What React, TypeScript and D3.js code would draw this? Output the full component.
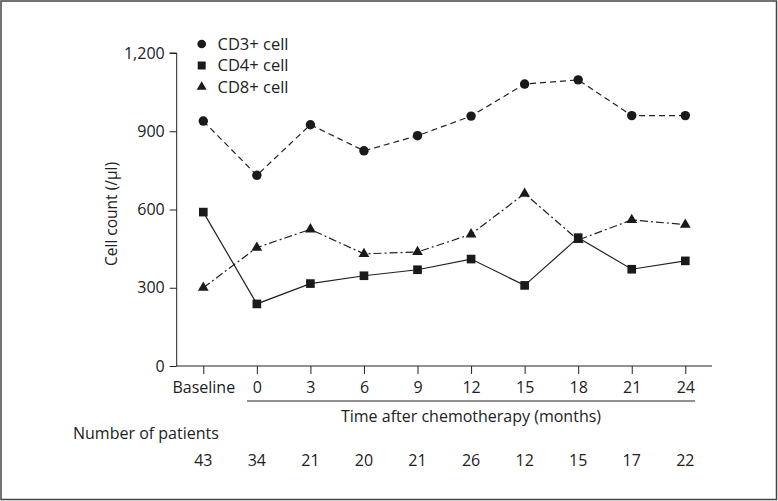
import React, { useEffect, useRef } from "react";
import * as d3 from "d3";

const categories = ["Baseline", "0", "3", "6", "9", "12", "15", "18", "21", "24"];
const cd3 = [939, 731, 925, 825, 883, 958, 1081, 1097, 960, 960];
const cd4 = [590, 238, 316, 346, 369, 410, 309, 492, 371, 403];
const cd8 = [300, 454, 524, 430, 437, 505, 661, 483, 560, 542];
const patients = [43, 34, 21, 20, 21, 26, 12, 15, 17, 22];
const yTicks = [0, 300, 600, 900, 1200];

const W = 778;
const H = 501;
const FONT = "'Open Sans', 'Noto Sans', sans-serif";
const INK = "#222";
const FS = "16px";

export default function App() {
  const ref = useRef<SVGSVGElement>(null);

  useEffect(() => {
    document.body.style.margin = "0";
    const svg = d3.select(ref.current).html("");

    const x = d3.scalePoint().domain(categories).range([203.3, 685.3]);
    const y = d3.scaleLinear().domain([0, 1200]).range([366, 53]);

    // frame
    svg.append("rect")
      .attr("x", 1).attr("y", 1).attr("width", W - 2.5).attr("height", H - 2.5)
      .attr("fill", "#fff").attr("stroke", "#444").attr("stroke-width", 1.5);

    // y axis
    const yAxis = svg.append("g")
      .attr("transform", "translate(176.7,0)")
      .call(d3.axisLeft(y).tickValues(yTicks).tickFormat(d3.format(",")).tickSize(7).tickPadding(5));
    yAxis.select(".domain").attr("stroke", INK).attr("d", `M-7,${y(1200)}H0V${y(0)}`);
    yAxis.selectAll(".tick line").attr("stroke", INK);
    yAxis.selectAll("text").attr("fill", INK).style("font-family", FONT).style("font-size", FS);

    // x axis
    const xAxis = svg.append("g")
      .attr("transform", "translate(0,366)")
      .call(d3.axisBottom(x).tickSize(8).tickPadding(8));
    xAxis.select(".domain").attr("stroke", INK).attr("d", "M176.7,0H712");
    xAxis.selectAll(".tick line").attr("stroke", INK);
    xAxis.selectAll("text").attr("fill", INK).style("font-family", FONT).style("font-size", FS);

    // bracket under months
    svg.append("line")
      .attr("x1", 247).attr("x2", 695).attr("y1", 401).attr("y2", 401)
      .attr("stroke", INK).attr("stroke-width", 1);

    svg.append("text")
      .attr("x", 471).attr("y", 421.5).attr("text-anchor", "middle")
      .attr("fill", INK).style("font-family", FONT).style("font-size", FS)
      .text("Time after chemotherapy (months)");

    svg.append("text")
      .attr("transform", "translate(117,214) rotate(-90)")
      .attr("text-anchor", "middle")
      .attr("fill", INK).style("font-family", FONT).style("font-size", "15.5px")
      .text("Cell count (/µl)");

    svg.append("text")
      .attr("x", 73).attr("y", 439)
      .attr("fill", INK).style("font-family", FONT).style("font-size", FS)
      .text("Number of patients");

    svg.append("g").selectAll("text").data(patients).join("text")
      .attr("x", (_, i) => x(categories[i])!)
      .attr("y", 466).attr("text-anchor", "middle")
      .attr("fill", INK).style("font-family", FONT).style("font-size", FS)
      .text(d => d);

    const line = d3.line<number>().x((_, i) => x(categories[i])!).y(d => y(d));

    const series = [
      { values: cd3, dash: "6,4", symbol: d3.symbolCircle, size: 70, label: "CD3+ cell" },
      { values: cd4, dash: null, symbol: d3.symbolSquare, size: 75, label: "CD4+ cell" },
      { values: cd8, dash: "8,3,2,3", symbol: d3.symbolTriangle, size: 50, label: "CD8+ cell" },
    ];

    series.forEach(s => {
      svg.append("path")
        .attr("d", line(s.values))
        .attr("fill", "none").attr("stroke", INK).attr("stroke-width", 1.2)
        .attr("stroke-dasharray", s.dash);
      svg.append("g").selectAll("path").data(s.values).join("path")
        .attr("transform", (d, i) => `translate(${x(categories[i])},${y(d)})`)
        .attr("d", d3.symbol().type(s.symbol).size(s.size)())
        .attr("fill", "#1a1a1a");
    });

    // legend
    const legend = svg.append("g");
    series.forEach((s, i) => {
      const ly = 44 + i * 21.5;
      legend.append("path")
        .attr("transform", `translate(201.7,${ly})`)
        .attr("d", d3.symbol().type(s.symbol).size(s.size * 0.85)())
        .attr("fill", "#1a1a1a");
      legend.append("text")
        .attr("x", 217.5).attr("y", ly + 5.5)
        .attr("fill", INK).style("font-family", FONT).style("font-size", "16.5px")
        .text(s.label);
    });
  }, []);

  return <svg ref={ref} width={W} height={H} style={{ display: "block" }} />;
}
